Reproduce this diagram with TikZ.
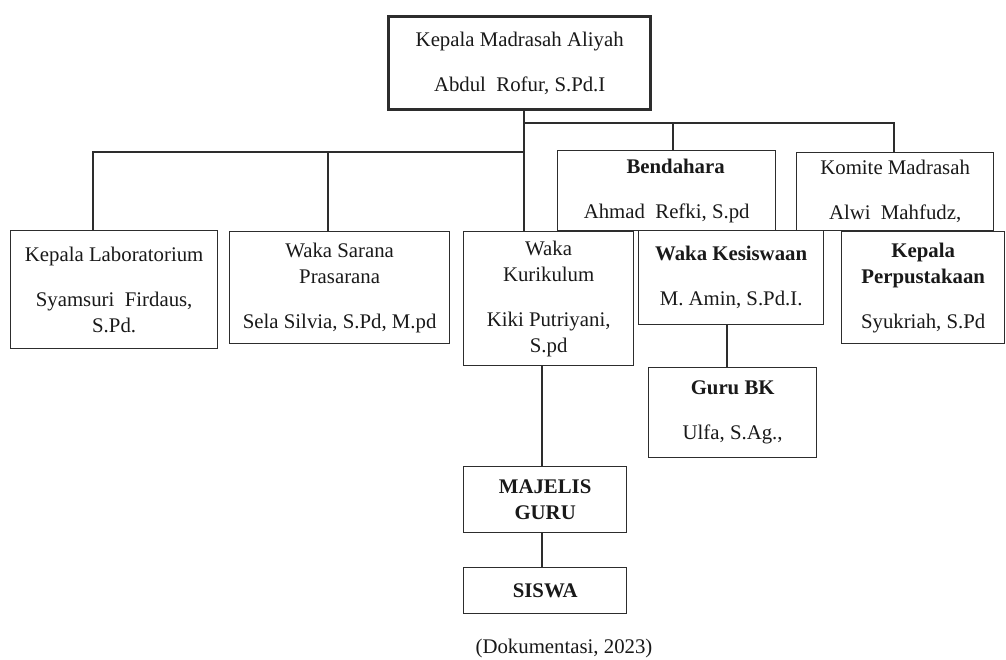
\documentclass[tikz,border=0pt]{standalone}
\usepackage{fontspec}
\setmainfont{Liberation Serif}
\definecolor{ln}{RGB}{45,45,45}
\definecolor{tx}{RGB}{25,25,25}
\begin{document}
\begin{tikzpicture}[x=1pt,y=-1pt,
  box/.style={draw=ln, line width=1.3pt, fill=white, rectangle, inner sep=0pt, anchor=north west,
    align=center, text=tx, font=\fontsize{20.8}{26}\selectfont},
  con/.style={draw=ln, line width=1.3pt},
  captxt/.style={text=tx, font=\fontsize{20.8}{26}\selectfont, inner sep=0pt}]
\useasboundingbox[fill=white] (0,0) rectangle (1006,660);
% boxes
\node[box, line width=3.4pt, minimum width=262pt, minimum height=93pt] (top) at (387,15)
  {Kepala Madrasah Aliyah\\[19pt]Abdul~ Rofur, S.Pd.I};
\node[box, minimum width=207pt, minimum height=118pt] (lab) at (10,230)
  {Kepala Laboratorium\\[19pt]Syamsuri~ Firdaus,\\S.Pd.};
\node[box, minimum width=220pt, minimum height=112pt] (sar) at (229,231)
  {Waka Sarana\\Prasarana\\[19pt]Sela Silvia, S.Pd, M.pd};
\node[box, minimum width=170pt, minimum height=134pt] (kur) at (463,231)
  {Waka\\Kurikulum\\[19pt]Kiki Putriyani,\\S.pd};
\node[box, minimum width=218pt, minimum height=80pt] (ben) at (557,150)
  {\hspace*{18pt}\textbf{Bendahara}\\[19pt]Ahmad~ Refki, S.pd};
\node[box, minimum width=197pt, minimum height=78pt] (kom) at (796,152)
  {Komite Madrasah\\[19pt]Alwi~ Mahfudz,};
\node[box, minimum width=185pt, minimum height=94pt] (kes) at (638,230)
  {\textbf{Waka Kesiswaan}\\[19pt]M. Amin, S.Pd.I.};
\node[box, minimum width=163pt, minimum height=112pt] (pus) at (841,231)
  {\textbf{Kepala}\\\textbf{Perpustakaan}\\[19pt]Syukriah, S.Pd};
\node[box, minimum width=168pt, minimum height=90pt] (bk) at (648,367)
  {\textbf{Guru BK}\\[19pt]Ulfa, S.Ag.,};
\node[box, minimum width=163pt, minimum height=66pt] (maj) at (463,466)
  {\textbf{MAJELIS}\\\textbf{GURU}};
\node[box, minimum width=163pt, minimum height=46pt] (sis) at (463,567)
  {\textbf{SISWA}};
\node[captxt] (capt) at (564,648) {(Dokumentasi, 2023)};
% junction coordinates
\coordinate (ja) at (524,123);
\coordinate (jb) at (894,123);
\coordinate (jc) at (673,123);
\coordinate (jd) at (524,152);
\coordinate (je) at (93,152);
\coordinate (jf) at (328,152);
\coordinate (jg) at (542,365);
\coordinate (jh) at (727,324);
% connectors
\draw[con] (top.south -| ja) -- (ja) -- (ja |- kur.north);
\draw[con] (ja) -- (jb) -- (jb |- kom.north);
\draw[con] (jc) -- (jc |- ben.north);
\draw[con] (jd) -- (je) -- (je |- lab.north);
\draw[con] (jf) -- (jf |- sar.north);
\draw[con] (jg |- kur.south) -- (jg |- maj.north);
\draw[con] (jg |- maj.south) -- (jg |- sis.north);
\draw[con] (jh |- kes.south) -- (jh |- bk.north);
\end{tikzpicture}
\end{document}
